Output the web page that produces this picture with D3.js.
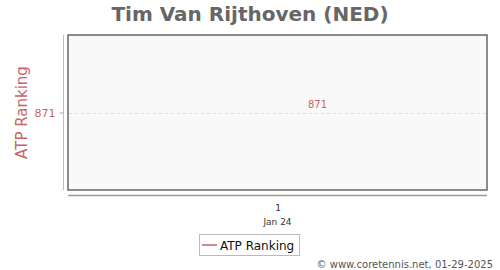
<!DOCTYPE html>
<html><head><meta charset="utf-8">
<script src="https://cdn.jsdelivr.net/npm/d3@7"></script>
<style>body{margin:0;background:#fff}svg{display:block}text{font-family:"DejaVu Sans",sans-serif}</style>
</head><body><svg id="c" width="500" height="270"></svg>
<script>
const categories = ["1"];
const dateLabels = ["Jan 24"];
const rankings = [871];
const yTicks = [871];
const seriesName = "ATP Ranking";
const titleText = "Tim Van Rijthoven (NED)";
const footerText = "© www.coretennis.net, 01-29-2025";

const svg = d3.select("#c");
const L = 68, R = 487, T = 35, B = 190;
const red = "#c86464";

const x = d3.scalePoint().domain(categories).range([L, R]).padding(0.5);
const y = d3.scaleLinear().domain([871 - 1, 871 + 1]).range([B, T]);

svg.append("text").attr("x", 250).attr("y", 21).attr("text-anchor", "middle")
  .attr("font-size", 20).attr("font-weight", "bold").attr("fill", "#666").text(titleText);

svg.append("rect").attr("x", L).attr("y", T).attr("width", R - L).attr("height", B - T)
  .attr("fill", "#f9f9f9").attr("stroke", "#666").attr("stroke-width", 1.5);

// grid
svg.selectAll(".grid").data(yTicks).join("line")
  .attr("x1", L + 1).attr("x2", R - 1).attr("y1", d => Math.round(y(d)) + 0.5).attr("y2", d => Math.round(y(d)) + 0.5)
  .attr("stroke", "#ddd").attr("stroke-dasharray", "3,3");

// y axis
const yAxis = d3.axisLeft(y).tickValues(yTicks).tickFormat(d3.format("d")).tickSize(4).tickPadding(4);
const gy = svg.append("g").attr("transform", `translate(${L - 4.5},0)`).call(yAxis);
gy.select(".domain").attr("stroke", "#e0b0b0").attr("d", `M0,${T}V${B}`);
gy.selectAll(".tick line").attr("stroke", "#aaa");
gy.selectAll(".tick text").attr("fill", red).attr("font-size", 11).attr("font-family", "DejaVu Sans");

svg.append("text").attr("transform", `translate(27,${(T + B) / 2}) rotate(-90)`)
  .attr("text-anchor", "middle").attr("font-size", 15).attr("fill", red).text(seriesName);

// x axis
const xAxis = d3.axisBottom(x).tickSize(0).tickPadding(9);
const gx = svg.append("g").attr("transform", `translate(0,${B + 5.5})`).call(xAxis);
gx.select(".domain").attr("stroke", "#999").attr("stroke-width", 1.5).attr("d", `M${L},0H${R}`);
gx.selectAll(".tick text").attr("fill", "#333").attr("font-size", 9).attr("font-family", "DejaVu Sans");
svg.selectAll(".dlab").data(categories).join("text")
  .attr("x", d => x(d)).attr("y", 224.5).attr("text-anchor", "middle")
  .attr("font-size", 9).attr("fill", "#333").text((d, i) => dateLabels[i]);

// line series
const line = d3.line().x((d, i) => x(categories[i])).y(d => y(d));
svg.append("path").datum(rankings).attr("d", line).attr("fill", "none").attr("stroke", red).attr("stroke-width", 1.5);
svg.selectAll(".vlab").data(rankings).join("text")
  .attr("x", (d, i) => x(categories[i]) + 40).attr("y", d => y(d) - 5).attr("text-anchor", "middle")
  .attr("font-size", 10).attr("fill", red).text(d => d);

// legend
svg.append("rect").attr("x", 199.5).attr("y", 234.5).attr("width", 100).attr("height", 21)
  .attr("fill", "#fff").attr("stroke", "#bbb");
svg.append("line").attr("x1", 202).attr("x2", 217).attr("y1", 245).attr("y2", 245).attr("stroke", red).attr("stroke-width", 1.5);
svg.append("text").attr("x", 220).attr("y", 249.5).attr("font-size", 12).attr("fill", "#111").text(seriesName);

svg.append("text").attr("x", 493).attr("y", 268).attr("text-anchor", "end")
  .attr("font-size", 10).attr("fill", "#555").text(footerText);
</script></body></html>
